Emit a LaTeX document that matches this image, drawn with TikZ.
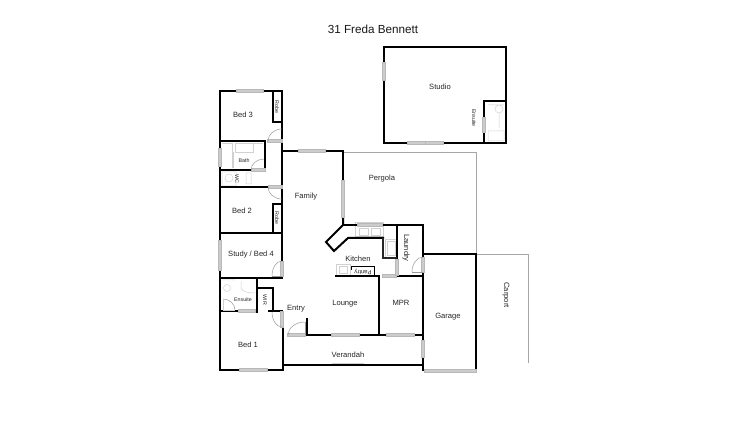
\documentclass[tikz,border=0pt]{standalone}
\usepackage{fontspec}
\usetikzlibrary{calc}
\setmainfont{Liberation Sans}
\tikzset{
  wall/.style={line width=2pt,black,line cap=rect},
  thin/.style={line width=0.9pt,draw=black!35},
  fix/.style={line width=0.5pt,draw=black!18},
  doorl/.style={line width=0.5pt,draw=black!40},
  win/.style={line width=0.5pt,draw=black!28,fill=black!20},
  lab/.style={font=\fontsize{7.6}{8}\selectfont,text=black!85,inner sep=0pt},
  small/.style={font=\fontsize{5.3}{6}\selectfont,text=black!85,inner sep=0pt}
}
\newcommand{\hwin}[3]{\draw[win] (#1,#3-1.7) rectangle (#2,#3+1.7);}
\newcommand{\vwin}[3]{\draw[win] (#3-1.7,#1) rectangle (#3+1.7,#2);}
% quarter swing: start, corner, end
\newcommand{\swing}[3]{\draw[doorl] (#1) .. controls ($(#1)!0.55!(#2)$) and ($(#3)!0.55!(#2)$) .. (#3);}
\begin{document}
\begin{tikzpicture}[x=1pt,y=-1pt]
\useasboundingbox[fill=white] (0,0) rectangle (750,422);
\node[inner sep=0pt,font=\fontsize{11.7}{13}\selectfont,text=black!90] (title) at (373,29) {31 Freda Bennett};
% thin outlines
\draw[thin] (343,152) -- (476,152) -- (476,254);
\draw[thin] (476,254) -- (528,254) -- (528,363);
% fixtures
\draw[fix] (235,143) rectangle (253,152) (222,143) -- (232,143) -- (232,168);
\draw[fix] (253,143) -- (263,143) (233,152) -- (233,168);
\draw[fix] (229,178) circle (4) (246,173) rectangle (251,184) (222,172) rectangle (236,186);
\draw[fix] (227,288) circle (3.5) (222,280) -- (235,280) (241,281) -- (241,287) .. controls (241,291) and (246,293) .. (255,293);
\draw[fix] (499,109) circle (4) (488,105) -- (504,105) (499,113) -- (499,128) (488,131) rectangle (504,141);
\draw[fix] (355,222) rectangle (383,236) (359,228) rectangle (368,235) (371,228) rectangle (380,235);
\draw[fix] (385,239) rectangle (396,257) (387,241) rectangle (395,255);
\draw[fix] (336,264) rectangle (350,275) (339,266) rectangle (347,273);
\draw[fix] (332,363) -- (364,363);
% walls
\draw[wall] (265,141) -- (220,141) -- (220,91) -- (236,91) (263,91) -- (282,91) -- (282,141);
\draw[wall] (273,91) -- (273,122) -- (282,122);
\draw[wall] (265,141) -- (265,170);
\draw[wall] (220,141) -- (220,148) (220,166) -- (220,233);
\draw[wall] (220,170) -- (251,170);
\draw[wall] (220,187) -- (268,187);
\draw[wall] (282,91) -- (282,261);
\draw[wall] (273,233) -- (273,204) -- (282,204);
\draw[wall] (220,233) -- (282,233);
\draw[wall] (220,233) -- (220,240) (220,270) -- (220,370) -- (239,370) (267,370) -- (283,370) -- (283,327);
\draw[wall] (220,278) -- (282,278) -- (282,276);
\draw[wall] (257,278) -- (257,312);
\draw[wall] (220,311) -- (238,311) (255,311) -- (257,311);
\draw[wall] (257,288) -- (273,288) -- (273,311);
\draw[wall] (269,311) -- (282,311);
\draw[wall] (282,151) -- (298,151) (325,151) -- (343,151) -- (343,180);
\draw[wall] (307,319) -- (307,335) -- (331,335) (359,335) -- (386,335) (414,335) -- (423,335);
\draw[wall] (283,365) -- (423,365);
\draw[wall] (379,276) -- (379,335);
\draw[wall] (336,276) -- (379,276) (397,276) -- (423,276);
\draw[wall] (423,274) -- (423,340) (423,357) -- (423,370);
\draw[wall] (343,225) -- (357,225) (382,225) -- (423,225) -- (423,257);
\draw[wall] (397,225) -- (397,259);
\draw[wall] (423,254) -- (476,254) -- (476,370);
\draw[wall] (343,217) -- (343,225) -- (326,242) -- (334,251) -- (348,238) -- (383,238);
\draw[line width=1.4pt,black!85] (383,238) -- (383,258) -- (397,258);
\draw[line width=1pt,black] (351,270) -- (351,267) -- (374,267) -- (374,276);
\draw[wall] (384,47) rectangle (506,143);
\draw[wall] (484,143) -- (484,101) -- (506,101);
% windows
\hwin{236}{263}{91}
\vwin{148}{166}{220}
\vwin{240}{270}{220}
\hwin{298}{325}{151}
\hwin{239}{267}{370}
\hwin{238}{255}{311}
\hwin{331}{359}{335}
\hwin{386}{414}{335}
\vwin{340}{357}{423}
\hwin{424}{476}{370.5}
\vwin{62}{80}{384}
\hwin{407}{425}{143}
\hwin{425}{443}{143}
\vwin{117}{132}{484}
\hwin{357}{382}{225}
% doors
\hwin{267}{282}{141}
\swing{268,141}{268,129}{282,129}
\hwin{251}{265}{170}
\swing{251,170}{251,159}{264,159}
\hwin{268}{282}{187}
\swing{268,187}{268,199}{282,199}
\vwin{261}{276}{282}
\swing{272,276}{272,261}{282,261}
\draw[doorl] (272,276) -- (282,276);
\vwin{311}{327}{282}
\swing{272,312}{272,327}{282,327}
\hwin{287}{305}{335}
\swing{288,335}{288,322}{305,322}
\draw[doorl] (305,322) -- (305,335);
\vwin{180}{217}{343}
\hwin{382}{396}{276}
\vwin{259}{275}{397}
\vwin{257}{272}{423}
\swing{412,272}{412,257}{423,257}
\draw[doorl] (412,272) -- (423,272);
\swing{223,299}{235,299}{235,310}
\draw[fix] (223,299) -- (223,310) -- (235,310);
% labels
\node[lab] (n1) at (243,115) {Bed 3};
\node[lab] (n2) at (306,197) {Family};
\node[lab] (n3) at (242,211) {Bed 2};
\node[lab] (n4) at (251,254.5) {Study / Bed 4};
\node[lab] (n5) at (296,309) {Entry};
\node[lab] (n6) at (248,345) {Bed 1};
\node[lab] (n7) at (345,304) {Lounge};
\node[lab] (n8) at (401,303) {MPR};
\node[lab] (n9) at (348,355) {Verandah};
\node[lab] (n10) at (448,316.5) {Garage};
\node[lab] (n11) at (358,258.5) {Kitchen};
\node[lab] (n12) at (382,179) {Pergola};
\node[lab] (n13) at (440,87) {Studio};
\node[lab,rotate=-90] (n14) at (406,248) {Laundry};
\node[lab,rotate=-90] (n15) at (506,295) {Carport};
\node[small] (n16) at (244,161) {Bath};
\node[small] (n17) at (243,299.5) {Ensuite};
\node[small,rotate=-90] (n18) at (277,107) {Robe};
\node[small,rotate=-90] (n19) at (277,218) {Robe};
\node[small,rotate=-90] (n20) at (265,300) {WIR};
\node[small,rotate=-90] (n21) at (237,179) {WC};
\node[small,rotate=-90] (n22) at (474,118) {Ensuite};
\node[small,rotate=180,font=\fontsize{6}{6}\selectfont] (n23) at (363,271.5) {Pantry};
\end{tikzpicture}
\end{document}
